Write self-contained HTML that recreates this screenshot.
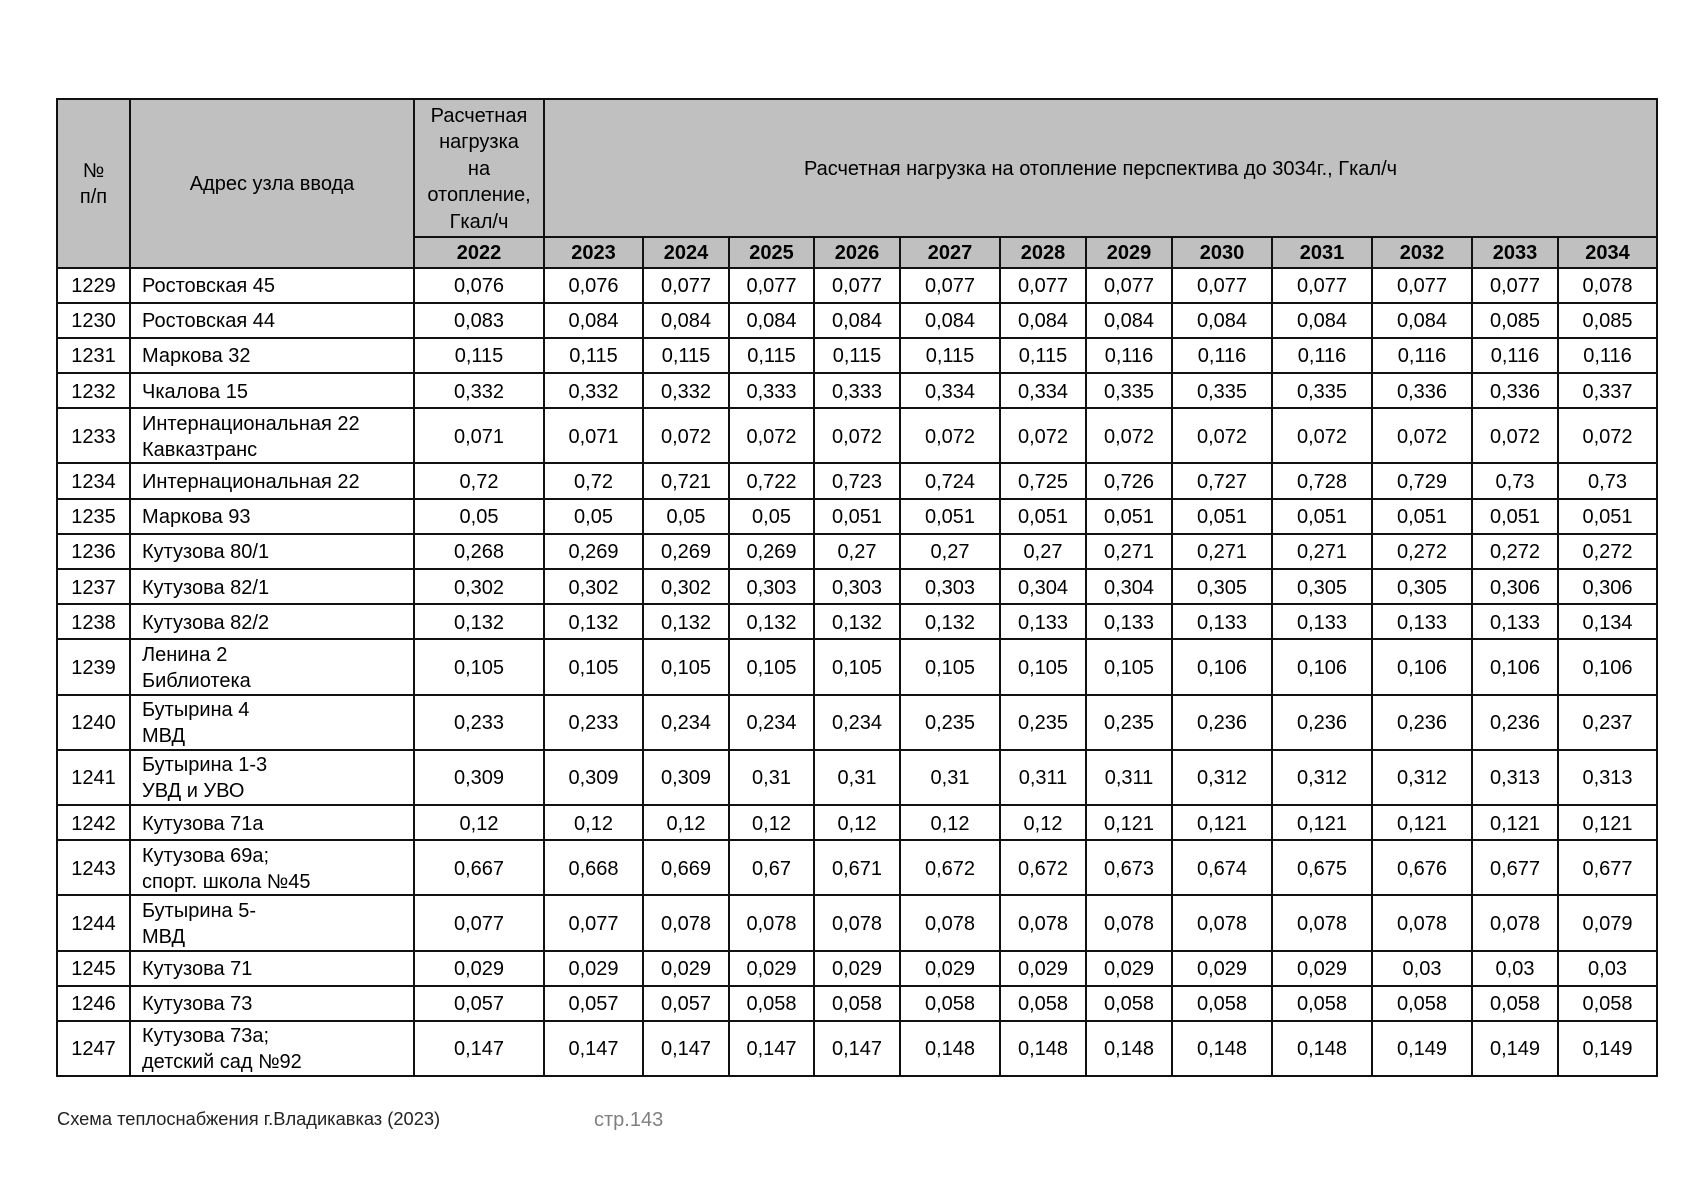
<!DOCTYPE html>
<html>
<head>
<meta charset="utf-8">
<style>
  html, body { margin:0; padding:0; background:#fff; }
  body { width:1697px; height:1200px; position:relative; overflow:hidden;
         font-family:"Liberation Sans", "DejaVu Sans", sans-serif; color:#000; }
  .tbl { position:absolute; left:56px; top:98px;
         border-left:2px solid #111; border-top:2px solid #111;
         display:grid;
         grid-template-columns:73px 284px 130px 99px 86px 85px 86px 100px 86px 86px 100px 100px 100px 86px 99px;
         grid-template-rows:137.5px 31px 35.2px 35.2px 35.2px 35.2px 55.2px 35.2px 35.2px 35.2px 35.2px 35.2px 55.2px 55.2px 55.2px 35.2px 55.2px 55.2px 35.2px 35.2px 55.2px;
         font-size:20px; }
  .tbl > div { box-sizing:border-box; border-right:2px solid #111; border-bottom:2px solid #111;
               display:flex; align-items:center; justify-content:center; text-align:center;
               line-height:26px; padding-top:2px; }
  .tbl > div.h { background:#c0c0c0; }
  .tbl > div.y { background:#c0c0c0; font-weight:bold; font-size:20px; padding-top:1px; }
  .tbl > div.a { justify-content:flex-start; text-align:left; padding-left:11px; }
  .tbl > div.hc { line-height:26.5px; }
  .foot1 { position:absolute; left:57px; top:1108px; font-size:18.3px; color:#222; }
  .foot2 { position:absolute; left:594px; top:1109px; font-size:20px; color:#808080; }
</style>
</head>
<body>
<div class="tbl">
  <div class="h" style="grid-row:1/3;grid-column:1;">№<br>п/п</div>
  <div class="h" style="grid-row:1/3;grid-column:2;">Адрес узла ввода</div>
  <div class="h hc" style="grid-row:1;grid-column:3;">Расчетная<br>нагрузка<br>на<br>отопление,<br>Гкал/ч</div>
  <div class="h" style="grid-row:1;grid-column:4/16;">Расчетная нагрузка на отопление перспектива до 3034г., Гкал/ч</div>
  <div class="y" style="grid-row:2;grid-column:3;">2022</div>
  <div class="y" style="grid-row:2;grid-column:4;">2023</div>
  <div class="y" style="grid-row:2;grid-column:5;">2024</div>
  <div class="y" style="grid-row:2;grid-column:6;">2025</div>
  <div class="y" style="grid-row:2;grid-column:7;">2026</div>
  <div class="y" style="grid-row:2;grid-column:8;">2027</div>
  <div class="y" style="grid-row:2;grid-column:9;">2028</div>
  <div class="y" style="grid-row:2;grid-column:10;">2029</div>
  <div class="y" style="grid-row:2;grid-column:11;">2030</div>
  <div class="y" style="grid-row:2;grid-column:12;">2031</div>
  <div class="y" style="grid-row:2;grid-column:13;">2032</div>
  <div class="y" style="grid-row:2;grid-column:14;">2033</div>
  <div class="y" style="grid-row:2;grid-column:15;">2034</div>

  <div>1229</div><div class="a">Ростовская 45</div><div>0,076</div><div>0,076</div><div>0,077</div><div>0,077</div><div>0,077</div><div>0,077</div><div>0,077</div><div>0,077</div><div>0,077</div><div>0,077</div><div>0,077</div><div>0,077</div><div>0,078</div>
  <div>1230</div><div class="a">Ростовская 44</div><div>0,083</div><div>0,084</div><div>0,084</div><div>0,084</div><div>0,084</div><div>0,084</div><div>0,084</div><div>0,084</div><div>0,084</div><div>0,084</div><div>0,084</div><div>0,085</div><div>0,085</div>
  <div>1231</div><div class="a">Маркова 32</div><div>0,115</div><div>0,115</div><div>0,115</div><div>0,115</div><div>0,115</div><div>0,115</div><div>0,115</div><div>0,116</div><div>0,116</div><div>0,116</div><div>0,116</div><div>0,116</div><div>0,116</div>
  <div>1232</div><div class="a">Чкалова 15</div><div>0,332</div><div>0,332</div><div>0,332</div><div>0,333</div><div>0,333</div><div>0,334</div><div>0,334</div><div>0,335</div><div>0,335</div><div>0,335</div><div>0,336</div><div>0,336</div><div>0,337</div>
  <div>1233</div><div class="a">Интернациональная 22<br>Кавказтранс</div><div>0,071</div><div>0,071</div><div>0,072</div><div>0,072</div><div>0,072</div><div>0,072</div><div>0,072</div><div>0,072</div><div>0,072</div><div>0,072</div><div>0,072</div><div>0,072</div><div>0,072</div>
  <div>1234</div><div class="a">Интернациональная 22</div><div>0,72</div><div>0,72</div><div>0,721</div><div>0,722</div><div>0,723</div><div>0,724</div><div>0,725</div><div>0,726</div><div>0,727</div><div>0,728</div><div>0,729</div><div>0,73</div><div>0,73</div>
  <div>1235</div><div class="a">Маркова 93</div><div>0,05</div><div>0,05</div><div>0,05</div><div>0,05</div><div>0,051</div><div>0,051</div><div>0,051</div><div>0,051</div><div>0,051</div><div>0,051</div><div>0,051</div><div>0,051</div><div>0,051</div>
  <div>1236</div><div class="a">Кутузова 80/1</div><div>0,268</div><div>0,269</div><div>0,269</div><div>0,269</div><div>0,27</div><div>0,27</div><div>0,27</div><div>0,271</div><div>0,271</div><div>0,271</div><div>0,272</div><div>0,272</div><div>0,272</div>
  <div>1237</div><div class="a">Кутузова 82/1</div><div>0,302</div><div>0,302</div><div>0,302</div><div>0,303</div><div>0,303</div><div>0,303</div><div>0,304</div><div>0,304</div><div>0,305</div><div>0,305</div><div>0,305</div><div>0,306</div><div>0,306</div>
  <div>1238</div><div class="a">Кутузова 82/2</div><div>0,132</div><div>0,132</div><div>0,132</div><div>0,132</div><div>0,132</div><div>0,132</div><div>0,133</div><div>0,133</div><div>0,133</div><div>0,133</div><div>0,133</div><div>0,133</div><div>0,134</div>
  <div>1239</div><div class="a">Ленина 2<br>Библиотека</div><div>0,105</div><div>0,105</div><div>0,105</div><div>0,105</div><div>0,105</div><div>0,105</div><div>0,105</div><div>0,105</div><div>0,106</div><div>0,106</div><div>0,106</div><div>0,106</div><div>0,106</div>
  <div>1240</div><div class="a">Бутырина 4<br>МВД</div><div>0,233</div><div>0,233</div><div>0,234</div><div>0,234</div><div>0,234</div><div>0,235</div><div>0,235</div><div>0,235</div><div>0,236</div><div>0,236</div><div>0,236</div><div>0,236</div><div>0,237</div>
  <div>1241</div><div class="a">Бутырина 1-3<br>УВД и УВО</div><div>0,309</div><div>0,309</div><div>0,309</div><div>0,31</div><div>0,31</div><div>0,31</div><div>0,311</div><div>0,311</div><div>0,312</div><div>0,312</div><div>0,312</div><div>0,313</div><div>0,313</div>
  <div>1242</div><div class="a">Кутузова 71а</div><div>0,12</div><div>0,12</div><div>0,12</div><div>0,12</div><div>0,12</div><div>0,12</div><div>0,12</div><div>0,121</div><div>0,121</div><div>0,121</div><div>0,121</div><div>0,121</div><div>0,121</div>
  <div>1243</div><div class="a">Кутузова 69а;<br>спорт. школа №45</div><div>0,667</div><div>0,668</div><div>0,669</div><div>0,67</div><div>0,671</div><div>0,672</div><div>0,672</div><div>0,673</div><div>0,674</div><div>0,675</div><div>0,676</div><div>0,677</div><div>0,677</div>
  <div>1244</div><div class="a">Бутырина 5-<br>МВД</div><div>0,077</div><div>0,077</div><div>0,078</div><div>0,078</div><div>0,078</div><div>0,078</div><div>0,078</div><div>0,078</div><div>0,078</div><div>0,078</div><div>0,078</div><div>0,078</div><div>0,079</div>
  <div>1245</div><div class="a">Кутузова 71</div><div>0,029</div><div>0,029</div><div>0,029</div><div>0,029</div><div>0,029</div><div>0,029</div><div>0,029</div><div>0,029</div><div>0,029</div><div>0,029</div><div>0,03</div><div>0,03</div><div>0,03</div>
  <div>1246</div><div class="a">Кутузова 73</div><div>0,057</div><div>0,057</div><div>0,057</div><div>0,058</div><div>0,058</div><div>0,058</div><div>0,058</div><div>0,058</div><div>0,058</div><div>0,058</div><div>0,058</div><div>0,058</div><div>0,058</div>
  <div>1247</div><div class="a">Кутузова 73а;<br>детский сад №92</div><div>0,147</div><div>0,147</div><div>0,147</div><div>0,147</div><div>0,147</div><div>0,148</div><div>0,148</div><div>0,148</div><div>0,148</div><div>0,148</div><div>0,149</div><div>0,149</div><div>0,149</div>
</div>
<div class="foot1">Схема теплоснабжения г.Владикавказ (2023)</div>
<div class="foot2">стр.143</div>
</body>
</html>
